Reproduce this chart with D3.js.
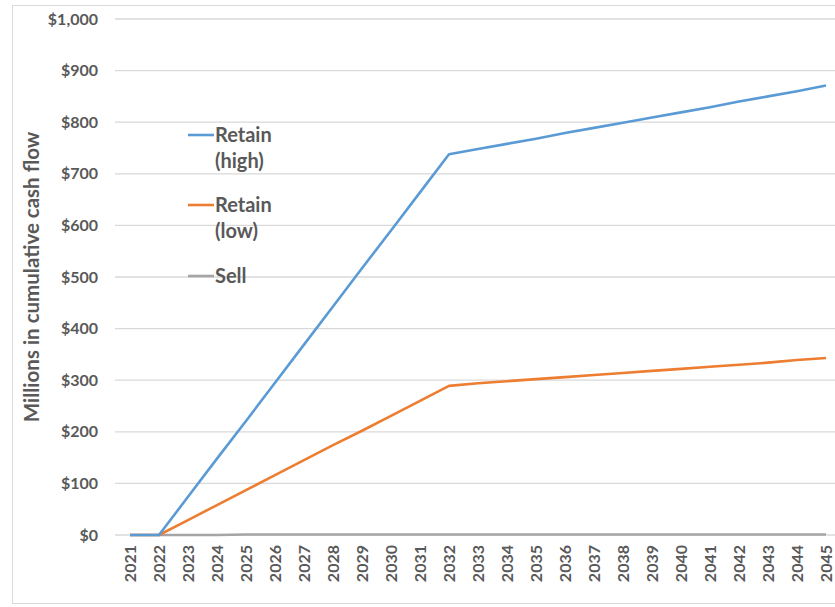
<!DOCTYPE html>
<html>
<head>
<meta charset="utf-8">
<script src="https://cdn.jsdelivr.net/npm/d3@7"></script>
<style>
  html, body { margin: 0; padding: 0; background: #fff; }
  svg { display: block; font-family: Lato, "Open Sans", sans-serif; }
</style>
</head>
<body>
<svg id="chart" width="835" height="607"></svg>
<script>
// Years on the category axis
const years = d3.range(2021, 2046).map(String);

// Cumulative cash flow, millions of dollars
const retainHigh = [0, 0, 74, 148, 221, 295, 369, 443, 517, 590, 664, 738,
  748, 758, 768, 779, 789, 799, 809, 819, 829, 840, 850, 860, 871];
const retainLow = [0, 0, 29, 58, 87, 116, 145, 174, 202, 231, 260, 289,
  294, 298, 302, 306, 310, 314, 318, 322, 326, 330, 334, 339, 343];
const sell = [0, 0, 0, 0, 1, 1, 1, 1, 1, 1, 1, 1,
  1, 1, 1, 1, 1, 1, 1, 1, 1, 1, 1, 1, 1];

const yTicks = [0, 100, 200, 300, 400, 500, 600, 700, 800, 900, 1000];

const seriesList = [
  { name: ["Retain", "(high)"], values: retainHigh, color: "#5b9bd5" },
  { name: ["Retain", "(low)"], values: retainLow, color: "#ed7d31" },
  { name: ["Sell"], values: sell, color: "#a5a5a5" }
];

const svg = d3.select("#chart");
const textColor = "#595959";

// Outer chart frame
svg.append("rect")
  .attr("x", 12.5).attr("y", 5.5)
  .attr("width", 840).attr("height", 598)
  .attr("fill", "none").attr("stroke", "#d9d9d9").attr("stroke-width", 1);

const x = d3.scalePoint().domain(years).range([130, 826]);
const y = d3.scaleLinear().domain([0, 1000]).range([535, 19]);

// Horizontal gridlines
svg.append("g")
  .selectAll("line")
  .data(yTicks)
  .join("line")
  .attr("x1", 115).attr("x2", 835)
  .attr("y1", d => y(d)).attr("y2", d => y(d))
  .attr("stroke", "#d9d9d9").attr("stroke-width", 1.3);

// Y axis labels
const fmt = d3.format(",");
const yAxis = d3.axisLeft(y).tickValues(yTicks).tickSize(0).tickPadding(0)
  .tickFormat(d => "$" + fmt(d));
svg.append("g")
  .attr("transform", "translate(98,0)")
  .call(yAxis)
  .call(g => g.select(".domain").remove())
  .call(g => g.selectAll("text")
    .attr("fill", textColor)
    .attr("font-size", 16)
    .attr("font-weight", "bold")
    .attr("font-family", "Lato, sans-serif"));

// X axis labels, rotated
const xAxis = d3.axisBottom(x).tickSize(0).tickPadding(0);
svg.append("g")
  .call(xAxis)
  .call(g => g.select(".domain").remove())
  .call(g => g.selectAll(".tick text")
    .attr("fill", textColor)
    .attr("font-size", 16)
    .attr("font-weight", "bold")
    .attr("font-family", "Lato, sans-serif")
    .attr("text-anchor", "end")
    .attr("dy", "0.35em")
    .attr("transform", "translate(0,545) rotate(-90)")
    .attr("x", 0).attr("y", 0));

// Y axis title
svg.append("text")
  .attr("transform", "translate(39,277) rotate(-90)")
  .attr("text-anchor", "middle")
  .attr("fill", textColor)
  .attr("font-size", 20.5)
  .attr("font-weight", "bold")
  .text("Millions in cumulative cash flow");

// Series lines
const line = d3.line()
  .x((d, i) => x(years[i]))
  .y(d => y(d));

svg.append("g")
  .selectAll("path")
  .data(seriesList.slice().reverse())
  .join("path")
  .attr("d", d => line(d.values))
  .attr("fill", "none")
  .attr("stroke", d => d.color)
  .attr("stroke-width", 2.6)
  .attr("stroke-linejoin", "round");

// Legend
const legendTop = [135, 205, 276];
const legend = svg.append("g");
seriesList.forEach((s, i) => {
  const ly = legendTop[i];
  legend.append("line")
    .attr("x1", 188).attr("x2", 214)
    .attr("y1", ly).attr("y2", ly)
    .attr("stroke", s.color).attr("stroke-width", 2.6);
  s.name.forEach((t, j) => {
    legend.append("text")
      .attr("x", 215).attr("y", ly + 7 + j * 26)
      .attr("fill", textColor)
      .attr("font-size", 20)
      .attr("font-weight", "bold")
      .text(t);
  });
});
</script>
</body>
</html>
